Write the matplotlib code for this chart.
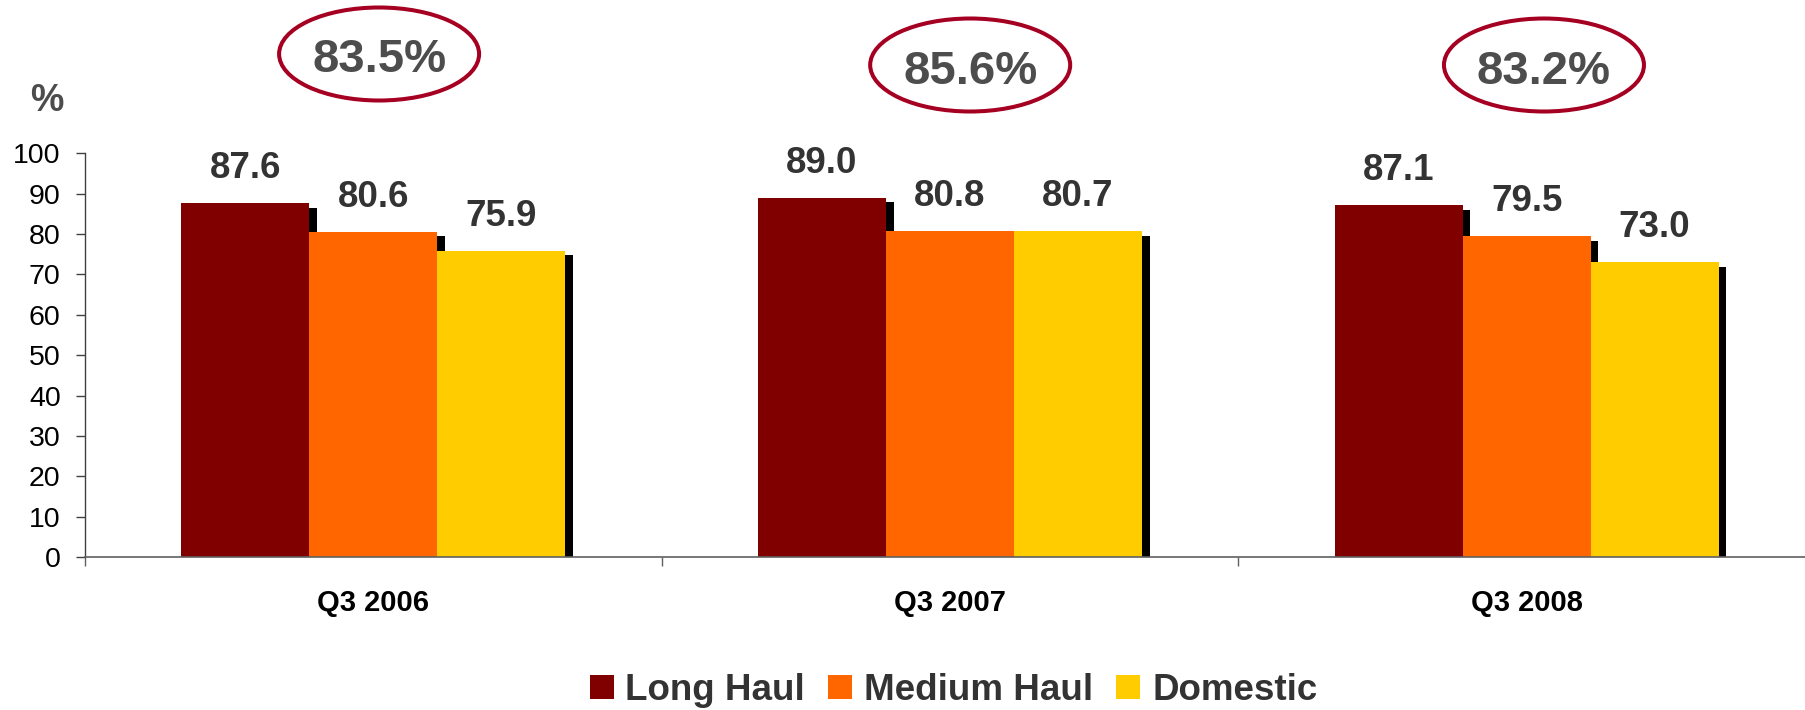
import numpy as np
import matplotlib
matplotlib.use("Agg")
import matplotlib.pyplot as plt
import matplotlib.patheffects as pe
from matplotlib.patches import Ellipse
from matplotlib.lines import Line2D
from matplotlib.transforms import IdentityTransform

plt.rcParams['font.family'] = ['Liberation Sans', 'DejaVu Sans']

periods = ['Q3 2006', 'Q3 2007', 'Q3 2008']
series_names = ['Long Haul', 'Medium Haul', 'Domestic']
long_haul = [87.6, 89.0, 87.1]
medium_haul = [80.6, 80.8, 79.5]
domestic = [75.9, 80.7, 73.0]
overall = [83.5, 85.6, 83.2]

colors = ['#800000', '#FF6600', '#FFCC00']

W, H = 1805, 710
fig = plt.figure(figsize=(W / 100, H / 100), dpi=100)
ax = fig.add_axes([85 / W, 1 - 557 / H, (1815 - 85) / W, (557 - 153.3) / H])

x = np.arange(len(periods))
w = 0.222
shadow = [pe.SimplePatchShadow(offset=(5.5, -3.2), shadow_rgbFace='black', alpha=1.0),
          pe.Normal()]

for i, (vals, col) in enumerate(zip([long_haul, medium_haul, domestic], colors)):
    bars = ax.bar(x + (i - 1) * w, vals, w, color=col, linewidth=0,
                  path_effects=shadow, zorder=2)
    for b, v in zip(bars, vals):
        ax.annotate(f'{v:.1f}', (b.get_x() + b.get_width() / 2, v),
                    xytext=(0, 18), textcoords='offset points',
                    ha='center', va='baseline', fontsize=26.5,
                    fontweight='bold', color='#333333')

ax.set_xlim(-0.5, 2.5)
ax.set_ylim(0, 100)
ax.set_yticks(range(0, 101, 10))
ax.tick_params(axis='y', labelsize=20.5, length=6.5, width=1, color='#404040',
               pad=11, labelcolor='black')
ax.set_xticks([-0.5, 0.5, 1.5, 2.5])
ax.set_xticklabels([])
ax.tick_params(axis='x', which='major', length=6.5, width=1, color='#606060')
ax.set_xticks(x, minor=True)
ax.set_xticklabels(periods, minor=True, fontsize=21, fontweight='bold')
ax.tick_params(axis='x', which='minor', length=0, pad=23)

for s in ['top', 'right']:
    ax.spines[s].set_visible(False)
ax.spines['left'].set_color('#404040')
ax.spines['bottom'].set_color('#606060')
ax.spines['left'].set_linewidth(1)
ax.spines['bottom'].set_linewidth(1.2)

# % unit label
fig.text(47 / W, 1 - 101 / H, '%', ha='center', va='center', fontsize=27,
         fontweight='bold', color='#4d4d4d')

# circled overall load factors
ell_off = [0.01, 0.035, 0.03]
ell_top = [54, 65, 65]
for i, val in enumerate(overall):
    cx = ax.transData.transform((i + ell_off[i], 0))[0]
    cy = H - ell_top[i]
    fig.add_artist(Ellipse((cx, cy), 200, 93, transform=IdentityTransform(),
                           fill=False, ec='#A50021', lw=2.9))
    fig.text(cx, cy - 18.5, f'{val:.1f}%', transform=IdentityTransform(),
             ha='center', va='baseline', fontsize=34, fontweight='bold',
             color='#4d4d4d')

handles = [Line2D([], [], marker='s', ls='none', markersize=17.3,
                  color=c, markeredgewidth=0) for c in colors]
leg = fig.legend(handles, series_names, loc='center', ncol=3,
                 bbox_to_anchor=(953 / W, 1 - 690 / H), frameon=False,
                 prop={'size': 26.5, 'weight': 'bold'}, handlelength=0.7,
                 handletextpad=0.3, columnspacing=0.6, borderpad=0)
for t in leg.get_texts():
    t.set_color('#333333')

fig.savefig('out.png', dpi=100)
